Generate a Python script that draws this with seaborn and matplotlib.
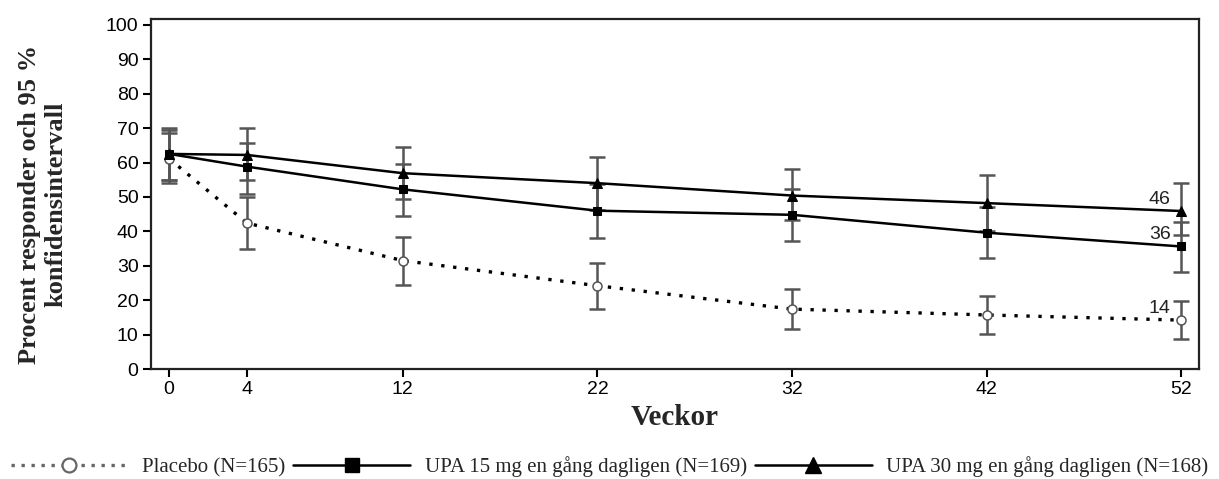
import numpy as np
import pandas as pd
import matplotlib
matplotlib.use("Agg")
import matplotlib.pyplot as plt
import seaborn as sns
from matplotlib.lines import Line2D

weeks = [0, 4, 12, 22, 32, 42, 52]
week_ticks = [0, 4, 12, 22, 32, 42, 52]
y_ticks = [0, 10, 20, 30, 40, 50, 60, 70, 80, 90, 100]

placebo = [61.1, 42.4, 31.5, 24.2, 17.4, 15.7, 14.2]
placebo_lo = [54.0, 35.0, 24.4, 17.5, 11.6, 10.1, 8.7]
placebo_hi = [68.7, 50.0, 38.5, 30.7, 23.3, 21.3, 19.8]

upa15 = [62.5, 58.8, 52.2, 46.0, 44.8, 39.6, 35.6]
upa15_lo = [54.9, 50.9, 44.5, 38.2, 37.2, 32.2, 28.1]
upa15_hi = [69.9, 65.8, 59.6, 53.8, 52.2, 47.0, 42.8]

upa30 = [62.5, 62.2, 56.9, 54.0, 50.4, 48.2, 45.9]
upa30_lo = [55.0, 54.9, 49.3, 46.2, 43.3, 40.0, 38.8]
upa30_hi = [69.5, 69.9, 64.6, 61.7, 58.1, 56.4, 54.0]

end_labels = ["14", "36", "46"]
series_names = ["Placebo (N=165)",
                "UPA 15 mg en gång dagligen (N=169)",
                "UPA 30 mg en gång dagligen (N=168)"]

sns.set_theme(style="ticks")
plt.rcParams["font.family"] = ["Liberation Sans", "DejaVu Sans"]

fig = plt.figure(figsize=(12.19, 4.79), dpi=100)
ax = fig.add_axes([151 / 1219, 1 - 369 / 479, (1199 - 151) / 1219, (369 - 19) / 479])

df = pd.DataFrame({
    "week": weeks * 3,
    "value": placebo + upa15 + upa30,
    "group": [series_names[0]] * 7 + [series_names[1]] * 7 + [series_names[2]] * 7,
})

err_color = "#555555"
los = [placebo_lo, upa15_lo, upa30_lo]
his = [placebo_hi, upa15_hi, upa30_hi]
vals = [placebo, upa15, upa30]
for v, lo, hi in zip(vals, los, his):
    v = np.array(v); lo = np.array(lo); hi = np.array(hi)
    ax.errorbar(weeks, v, yerr=[v - lo, hi - v], fmt="none", ecolor=err_color,
                elinewidth=1.8, capsize=6, capthick=1.8, zorder=2)

sns.lineplot(data=df[df.group == series_names[0]], x="week", y="value", ax=ax,
             color="black", linestyle=(0, (1, 2.6)), linewidth=2.4, marker="o",
             markersize=6.5, markerfacecolor="white", markeredgecolor="#555555",
             markeredgewidth=1.1, legend=False, zorder=3)
sns.lineplot(data=df[df.group == series_names[1]], x="week", y="value", ax=ax,
             color="black", linewidth=1.8, marker="s", markersize=6,
             markerfacecolor="black", markeredgecolor="black", legend=False, zorder=3)
sns.lineplot(data=df[df.group == series_names[2]], x="week", y="value", ax=ax,
             color="black", linewidth=1.8, marker="^", markersize=7,
             markerfacecolor="black", markeredgecolor="black", legend=False, zorder=3)

for lab, v in zip(end_labels, [placebo, upa15, upa30]):
    ax.text(52 - 0.55, v[-1] + 0.9, lab, ha="right", va="bottom", fontsize=14, color="#222222")

ax.set_xlim(-0.93, 52.9)
ax.set_ylim(0, 101.7)
ax.set_xticks(week_ticks)
ax.set_yticks(y_ticks)
ax.tick_params(axis="both", labelsize=14, length=6, width=1.5, direction="out",
               colors="black", pad=3)
for s in ax.spines.values():
    s.set_linewidth(1.6)
    s.set_color("#222222")

ax.set_xlabel("Veckor", fontsize=21, fontweight="bold", family=["Liberation Serif"], labelpad=4)
ax.set_ylabel("Procent responder och 95 %\nkonfidensintervall", fontsize=19, fontweight="bold",
              family=["Liberation Serif"], linespacing=1.2)
ax.yaxis.set_label_coords(-0.08, 0.47)

handles = [
    Line2D([], [], color="#666666", linestyle=(0, (1, 2)), linewidth=2.4, marker="o",
           markersize=10, markerfacecolor="white", markeredgecolor="#666666", markeredgewidth=1.6),
    Line2D([], [], color="black", linewidth=1.8, marker="s", markersize=10),
    Line2D([], [], color="black", linewidth=1.8, marker="^", markersize=11),
]
leg = fig.legend(handles, series_names, loc="lower center", bbox_to_anchor=(0.5, -0.035),
                 ncol=3, frameon=False, handlelength=5.6, handletextpad=0.7,
                 columnspacing=0.4, prop={"family": "Liberation Serif", "size": 15})

fig.savefig("out.png", dpi=100)
